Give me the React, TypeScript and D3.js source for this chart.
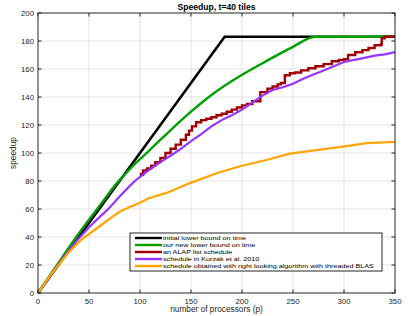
import React from 'react';
import * as d3 from 'd3';

// values, [processors, speedup]
const initialBound = [[0, 0], [183, 183], [350, 183]];
const newBound = [
  [0, 0], [20, 21.5], [40, 42.5], [58, 60], [78, 79], [90, 88.5], [105, 99], [123, 111.5],
  [150, 129.5], [172, 142.5], [198, 155], [226, 166.5], [249, 175.5], [272, 183], [350, 183],
];
const alapSchedule = [
  [100, 85], [101, 84.5], [103, 87.5], [107, 89], [111, 91], [115, 93.5], [120, 96.5],
  [125, 100], [130, 103], [135, 106], [140, 109.5], [145, 113], [148, 116], [151, 119],
  [155, 122], [160, 123.5], [165, 124.5], [170, 125.5], [175, 127], [180, 128], [185, 129.5],
  [190, 131], [195, 132.5], [200, 134], [205, 135], [210, 137], [218, 143.5], [225, 146],
  [230, 147.5], [235, 149], [238, 150], [242, 155.5], [247, 157], [252, 157.5], [258, 159],
  [265, 160.5], [272, 162], [280, 163.5], [288, 165.5], [295, 166.5], [300, 167], [304, 170],
  [311, 172], [318, 173.5], [324, 175], [330, 177], [336, 177.5], [337, 182], [340, 183],
  [350, 183],
];
const kurzak = [
  [0, 0], [10, 10.3], [20, 20.5], [30, 30], [40, 39], [50, 47], [60, 54], [69, 60], [80, 69],
  [90, 76.5], [95, 80], [100, 83], [110, 88.5], [120, 93.5], [131, 98.6], [140, 103],
  [150, 108.5], [160, 113.5], [170, 119], [180, 123.5], [190, 127], [200, 131], [210, 136],
  [220, 141], [230, 145], [240, 147], [250, 149.5], [260, 153], [270, 156], [280, 159],
  [290, 162], [300, 165], [310, 166.5], [320, 168], [330, 169.5], [340, 170.5], [350, 172],
];
const rightLooking = [
  [0, 0], [10, 10.5], [20, 20], [30, 29], [40, 36.5], [46, 40], [50, 42], [60, 47.5],
  [70, 53], [80, 58], [90, 61.5], [100, 64.5], [108, 67.5], [126, 71.5], [149, 78.5],
  [175, 85.5], [198, 90.5], [224, 95], [247, 99.5], [273, 102], [299, 104.5], [322, 107],
  [350, 108],
];

const seriesNames = [
  'initial lower bound on time',
  'our new lower bound on time',
  'an ALAP list schedule',
  'schedule in Kurzak et al. 2010',
  'schedule obtained with right looking algorithm with threaded BLAS',
];
const seriesColors = ['#000000', '#00a000', '#a00000', '#9933ff', '#ffa500'];
const xTicks = [0, 50, 100, 150, 200, 250, 300, 350];
const yTicks = [0, 20, 40, 60, 80, 100, 120, 140, 160, 180, 200];

const W = 415;
const H = 316;
const left = 38, right = 395, top = 13, bottom = 293;
const axisColor = '#262626';
const font = 'Liberation Sans, Arial, sans-serif';

export default function App() {
  const x = d3.scaleLinear().domain([0, 350]).range([left, right]);
  const y = d3.scaleLinear().domain([0, 200]).range([bottom, top]);

  const straight = d3.line<number[]>().x(d => x(d[0])).y(d => y(d[1]));
  const smooth = d3.line<number[]>().x(d => x(d[0])).y(d => y(d[1])).curve(d3.curveMonotoneX);
  const stepped = d3.line<number[]>().x(d => x(d[0])).y(d => y(d[1])).curve(d3.curveStepAfter);

  const paths = [
    { d: straight(initialBound), w: 2.6 },
    { d: smooth(newBound), w: 2.4 },
    { d: stepped(alapSchedule), w: 2.4 },
    { d: straight(kurzak), w: 2.2 },
    { d: straight(rightLooking), w: 2.2 },
  ];

  const legX = 130, legY = 233, legW = 252, legH = 38, rowH = 7;

  return (
    <svg width={W} height={H} style={{ position: 'absolute', left: 0, top: 0, background: '#fff' }}>
      {/* grid */}
      <g stroke="#dcdcdc" strokeWidth={0.8}>
        {xTicks.slice(1, -1).map(t => (
          <line key={'gx' + t} x1={x(t)} x2={x(t)} y1={top} y2={bottom} />
        ))}
        {yTicks.slice(1, -1).map(t => (
          <line key={'gy' + t} x1={left} x2={right} y1={y(t)} y2={y(t)} />
        ))}
      </g>

      {/* series */}
      <g fill="none" strokeLinejoin="miter">
        {paths.map((p, i) => (
          <path key={i} d={p.d || ''} stroke={seriesColors[i]} strokeWidth={p.w} />
        ))}
      </g>

      {/* axes box + ticks */}
      <g stroke={axisColor} strokeWidth={1}>
        <rect x={left} y={top} width={right - left} height={bottom - top} fill="none" />
        {xTicks.map(t => (
          <g key={'tx' + t}>
            <line x1={x(t)} x2={x(t)} y1={bottom} y2={bottom - 3.5} />
            <line x1={x(t)} x2={x(t)} y1={top} y2={top + 3.5} />
          </g>
        ))}
        {yTicks.map(t => (
          <g key={'ty' + t}>
            <line x1={left} x2={left + 3.5} y1={y(t)} y2={y(t)} />
            <line x1={right} x2={right - 3.5} y1={y(t)} y2={y(t)} />
          </g>
        ))}
      </g>

      {/* tick labels */}
      <g fill={axisColor} fontFamily={font} fontSize={7.8}>
        {xTicks.map(t => (
          <text key={'lx' + t} x={x(t)} y={bottom + 10.5} textAnchor="middle">{t}</text>
        ))}
        {yTicks.map(t => (
          <text key={'ly' + t} x={left - 4} y={y(t)} dy="0.35em" textAnchor="end">{t}</text>
        ))}
      </g>

      <text x={(left + right) / 2} y={312} textAnchor="middle" fontFamily={font} fontSize={8.3} fill={axisColor}>
        number of processors (p)
      </text>
      <text transform={`translate(16,${(top + bottom) / 2}) rotate(-90)`} textAnchor="middle"
        fontFamily={font} fontSize={8.3} fill={axisColor}>
        speedup
      </text>
      <text x={(left + right) / 2} y={10} textAnchor="middle" fontFamily={font} fontSize={8.6}
        fontWeight="bold" fill="#000">
        Speedup, t=40 tiles
      </text>

      {/* legend */}
      <g>
        <rect x={legX} y={legY} width={legW} height={legH} fill="#fff" stroke={axisColor} strokeWidth={1} />
        {seriesNames.map((name, i) => {
          const cy = legY + 5 + i * rowH;
          return (
            <g key={name}>
              <line x1={legX + 5} x2={legX + 32} y1={cy} y2={cy} stroke={seriesColors[i]} strokeWidth={2.4} />
              <text transform={`translate(${legX + 33},${cy}) scale(1.18,1)`} dy="0.35em"
                fontFamily={font} fontSize={6.1} fill="#000">{name}</text>
            </g>
          );
        })}
      </g>
    </svg>
  );
}
